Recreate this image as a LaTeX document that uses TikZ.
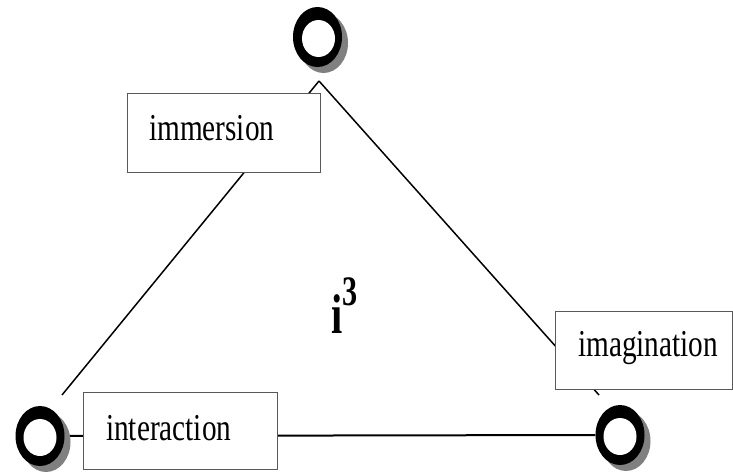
\documentclass[tikz,border=0pt]{standalone}
\usepackage{fontspec}
\setmainfont{Liberation Serif}
\usetikzlibrary{shapes.geometric}
\pgfdeclarelayer{background}
\pgfsetlayers{background,main}
\tikzset{
  ringouter/.style={ellipse, fill=black, minimum width=49pt, minimum height=60pt, inner sep=0pt},
  ringshadow/.style={ellipse, fill=black!50, minimum width=49pt, minimum height=60pt, inner sep=0pt},
  ringhole/.style={ellipse, fill=white, minimum width=33pt, minimum height=37pt, inner sep=0pt},
  labelbox/.style={rectangle, draw=black!65, line width=1pt, fill=white, inner sep=0pt},
  word/.style={anchor=base west, inner sep=0pt},
  diag/.style={line width=1.5pt, black},
  base/.style={line width=2pt, black}
}
\newcommand{\wordtext}[1]{\scalebox{0.77}[1]{\fontsize{38}{38}\selectfont #1}}
\begin{document}
\begin{tikzpicture}[x=1pt,y=-1pt]
\useasboundingbox (0,0) rectangle (733,471);
% ring shadows
\node[ringshadow] (sT) at (323.5,43) {};
\node[ringshadow] (sL) at (46,442) {};
\node[ringshadow] (sR) at (626,441) {};
% rings
\node[ringouter] (rT) at (317.5,37) {};
\node[ringhole] (hT) at (318.5,38.5) {};
\node[ringouter] (rL) at (40,436) {};
\node[ringhole] (hL) at (40,437.5) {};
\node[ringouter] (rR) at (620,435) {};
\node[ringhole] (hR) at (620,436.5) {};
% vertex coordinates
\coordinate (apex) at (319,81);
\coordinate (endL) at (62,395);
\coordinate (endR) at (599,395);
% boxes
\node[labelbox, minimum width=193pt, minimum height=79pt] (bImm) at (223.5,132.5) {};
\node[labelbox, minimum width=194pt, minimum height=77pt] (bInt) at (180,430.5) {};
\node[labelbox, minimum width=177pt, minimum height=78pt] (bIma) at (643.5,350) {};
% texts
\node[word] (tImm) at (149,140) {\wordtext{immersion}};
\node[word] (tInt) at (106,440) {\wordtext{interaction}};
\node[word] (tIma) at (578,356) {\wordtext{imagination}};
\node[word] (i3) at (331,333) {\scalebox{0.72}[1]{\fontsize{56}{56}\selectfont\bfseries i\raisebox{28pt}{\fontsize{42}{42}\selectfont 3}}};
% connectors
\begin{pgfonlayer}{background}
\draw[diag] (apex) -- (endL);
\draw[diag] (apex) -- (endR);
\draw[base] (rL.east) -- (rR.west);
\end{pgfonlayer}
\end{tikzpicture}
\end{document}
